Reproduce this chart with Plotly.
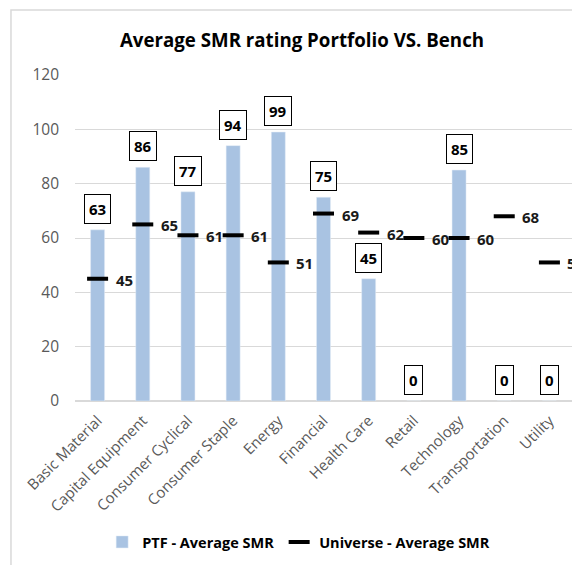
import plotly.graph_objects as go

categories = ["Basic Material", "Capital Equipment", "Consumer Cyclical", "Consumer Staple",
              "Energy", "Financial", "Health Care", "Retail", "Technology",
              "Transportation", "Utility"]
ptf_values = [63, 86, 77, 94, 99, 75, 45, 0, 85, 0, 0]
universe_values = [45, 65, 61, 61, 51, 69, 62, 60, 60, 68, 51]
y_ticks = [0, 20, 40, 60, 80, 100, 120]

FONT = "Open Sans, sans-serif"
GRAY = "#595959"
W, H = 572, 557  # page body has an 8px margin

fig = go.Figure()
fig.add_trace(go.Bar(
    x=categories, y=ptf_values, name="<b>PTF - Average SMR</b>",
    marker=dict(color="#a9c3e2"), width=0.31,
))
fig.add_trace(go.Scatter(
    x=categories, y=universe_values, name="<b>Universe - Average SMR</b>",
    mode="markers",
    marker=dict(symbol="line-ew", size=15, line=dict(width=4, color="black"), color="black"),
))

for c, v in zip(categories, ptf_values):
    fig.add_annotation(x=c, y=v, text=f"<b>{v}</b>", showarrow=False,
                       yanchor="bottom", yshift=6,
                       font=dict(family=FONT, size=15, color="black"),
                       bordercolor="black", borderwidth=1, borderpad=4, bgcolor="white")
for c, v in zip(categories, universe_values):
    fig.add_annotation(x=c, y=v, text=f"<b>{v}</b>", showarrow=False,
                       xanchor="left", xshift=16, yshift=-1,
                       font=dict(family=FONT, size=15, color="#1a1a1a"))

fig.add_shape(type="rect", xref="paper", yref="paper",
              x0=-0.1288, x1=1.2, y0=-0.8, y1=1.1994,
              line=dict(color="#d9d9d9", width=1.5), layer="below")

fig.update_layout(
    width=W, height=H,
    margin=dict(l=67, r=8, t=67, b=164, autoexpand=False),
    paper_bgcolor="white", plot_bgcolor="white",
    font=dict(family=FONT, size=13, color=GRAY),
    title=dict(text="<b>Average SMR rating Portfolio VS. Bench</b>",
               x=294 / W, xanchor="center", y=1 - 32 / H, yanchor="middle",
               font=dict(family=FONT, size=18.7, color="black")),
    showlegend=True,
    legend=dict(orientation="h", x=0.45, xanchor="center", y=-0.4325, yanchor="middle",
                font=dict(family=FONT, size=14.5, color="black"), itemwidth=30),
    bargap=0.5,
)
fig.update_yaxes(range=[0, 120], tickvals=y_ticks, showgrid=True, gridcolor="#d9d9d9",
                 gridwidth=1, zeroline=True, zerolinecolor="#d9d9d9", zerolinewidth=1.5,
                 ticks="", ticklabelstandoff=15, automargin=False,
                 tickfont=dict(size=15.5, color=GRAY), fixedrange=True)
fig.update_xaxes(range=[-0.5, 10.5], tickangle=-45, tickfont=dict(size=15, color=GRAY),
                 showline=False, automargin=False,
                 ticks="outside", ticklen=4, tickcolor="rgba(0,0,0,0)")

fig.write_html("out.html")
